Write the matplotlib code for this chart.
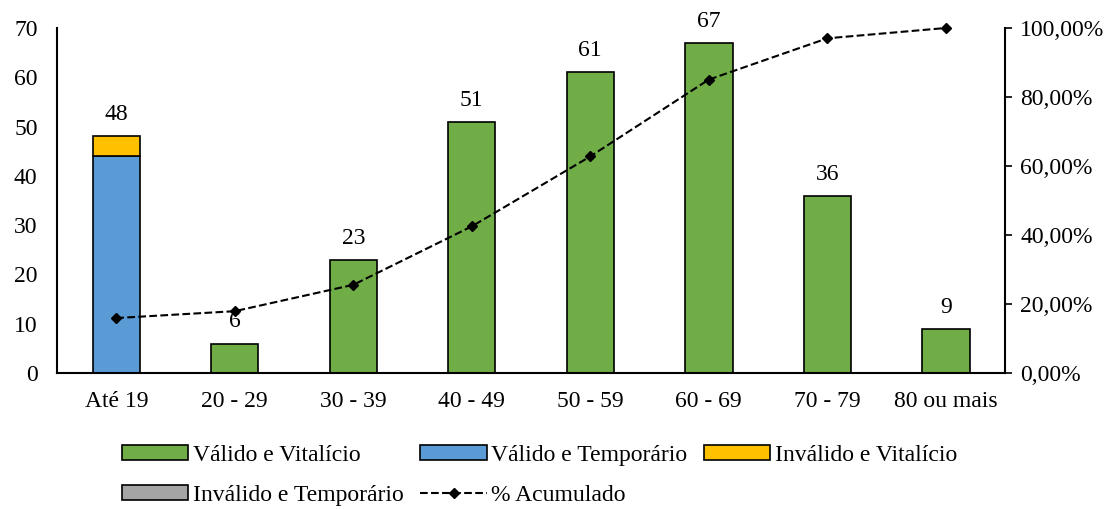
import numpy as np
import matplotlib.pyplot as plt
from matplotlib.ticker import FuncFormatter
from matplotlib.patches import Patch

plt.rcParams['font.family'] = ['Liberation Serif', 'DejaVu Serif']
plt.rcParams['font.size'] = 17

categorias = ['Até 19', '20 - 29', '30 - 39', '40 - 49', '50 - 59', '60 - 69', '70 - 79', '80 ou mais']
valido_vitalicio = [0, 6, 23, 51, 61, 67, 36, 9]
valido_temporario = [44, 0, 0, 0, 0, 0, 0, 0]
invalido_vitalicio = [4, 0, 0, 0, 0, 0, 0, 0]
invalido_temporario = [0, 0, 0, 0, 0, 0, 0, 0]
acumulado = [0.1595, 0.1794, 0.2558, 0.4252, 0.6279, 0.8505, 0.9701, 1.0]

cores = ['#70AD47', '#5B9BD5', '#FFC000', '#A5A5A5']
nomes = ['Válido e Vitalício', 'Válido e Temporário', 'Inválido e Vitalício', 'Inválido e Temporário']
series = [valido_vitalicio, valido_temporario, invalido_vitalicio, invalido_temporario]

fig = plt.figure(figsize=(11.18, 5.09), dpi=100)
ax = fig.add_axes([0.051, 0.267, 0.848, 0.678])
x = np.arange(len(categorias))

base = np.zeros(len(categorias))
for vals, cor, nome in zip(series, cores, nomes):
    vals = np.array(vals, dtype=float)
    ax.bar(x, vals, 0.4, bottom=base, color=cor, edgecolor='black',
           linewidth=np.where(vals > 0, 1.2, 0).tolist(), label=nome)
    base = base + vals

for xi, tot in zip(x, base):
    ax.annotate(f'{int(tot)}', (xi, tot), xytext=(0, 8), textcoords='offset points',
                ha='center', va='bottom', fontsize=17)

ax.set_ylim(0, 70)
ax.set_xlim(-0.5, len(categorias) - 0.5)
ax.set_yticks(range(0, 71, 10))
ax.set_xticks(x)
ax.set_xticklabels(categorias)
ax.tick_params(axis='both', length=0, labelsize=17)
ax.tick_params(axis='x', pad=13)
ax.tick_params(axis='y', pad=14)
ax.spines['top'].set_visible(False)
ax.spines['right'].set_visible(False)
ax.spines['left'].set_linewidth(1.5)
ax.spines['bottom'].set_linewidth(1.5)

ax2 = ax.twinx()
linha, = ax2.plot(x, acumulado, color='black', linestyle='--', linewidth=1.5,
                  marker='D', markersize=5, label='% Acumulado', clip_on=False)
ax2.set_ylim(0, 1)
ax2.set_yticks(np.arange(0, 1.01, 0.2))
ax2.yaxis.set_major_formatter(FuncFormatter(lambda v, p: f'{v * 100:.2f}%'.replace('.', ',')))
ax2.tick_params(axis='y', length=5, width=1.2, labelsize=17, pad=6)
for s in ['top', 'left', 'bottom']:
    ax2.spines[s].set_visible(False)
ax2.spines['right'].set_linewidth(1.5)

hs = [Patch(facecolor=c, edgecolor='black', linewidth=1.2) for c in cores]
handles = [hs[0], hs[3], hs[1], linha, hs[2]]
labels = [nomes[0], nomes[3], nomes[1], '% Acumulado', nomes[2]]
fig.legend(handles, labels, loc='upper left', bbox_to_anchor=(0.101, 0.145), ncol=3,
           frameon=False, fontsize=17, handlelength=2.8, handleheight=0.6,
           handletextpad=0.2, columnspacing=0.7, labelspacing=0.8, borderaxespad=0)

fig.savefig('out.png', dpi=100)
